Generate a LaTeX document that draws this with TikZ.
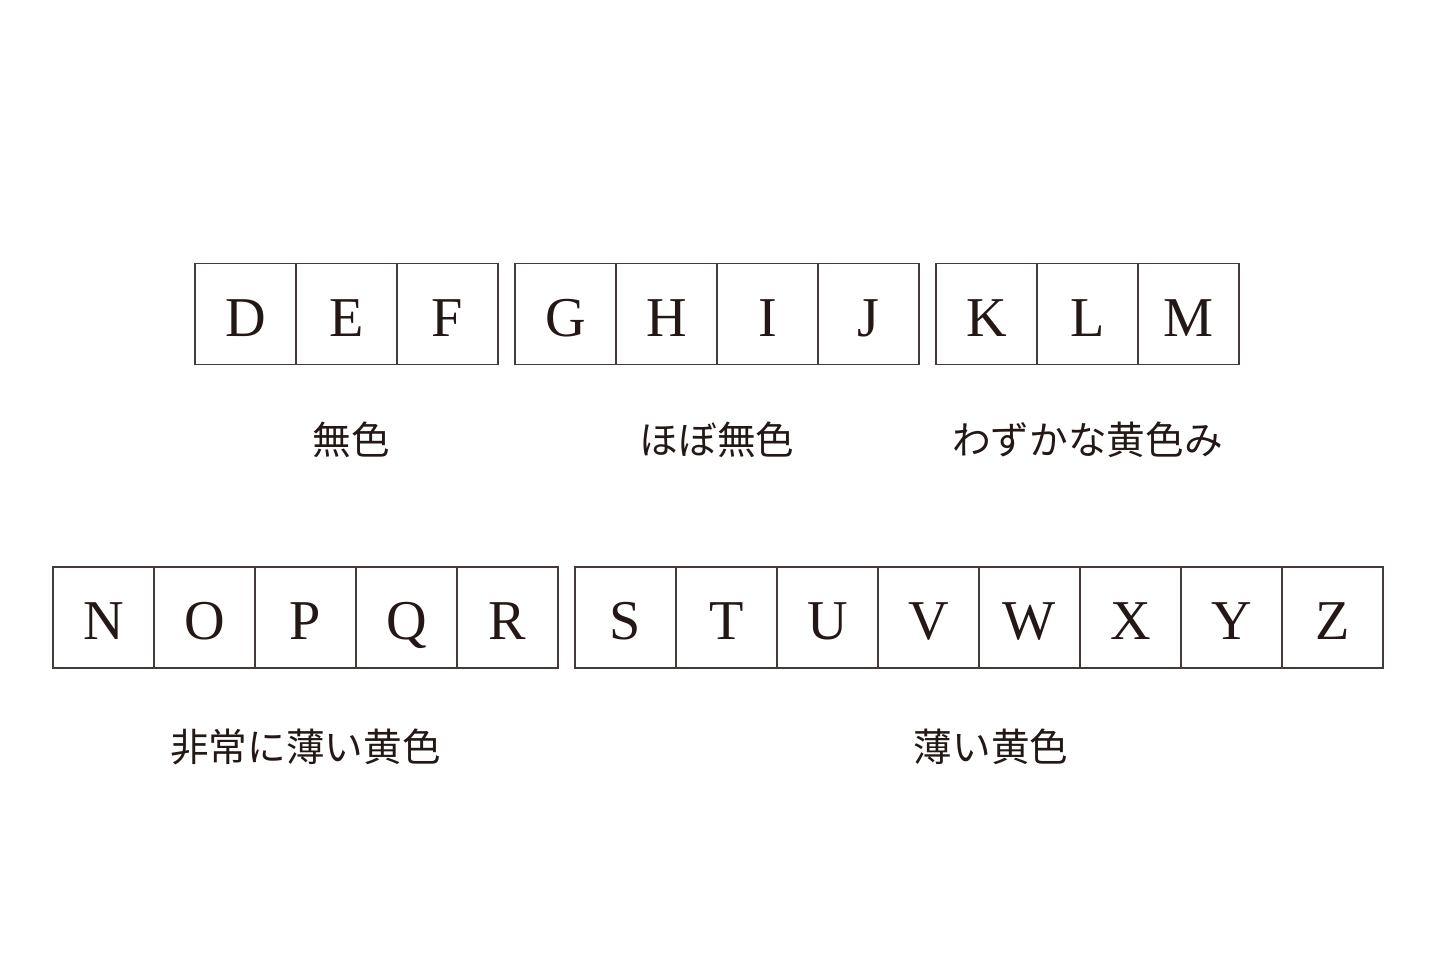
\documentclass[tikz,border=0pt]{standalone}
\usepackage{fontspec}
\setmainfont{Liberation Serif}
\newfontfamily\jpfont{Noto Sans CJK JP}
\usetikzlibrary{positioning}
\definecolor{ink}{HTML}{231815}

\begin{document}
\begin{tikzpicture}[
        grade/.style = {
            draw=ink!85,
            line width=0.5pt,
            minimum width=1.01cm,
            minimum height=1.01cm,
            text height=12.6pt,
            text depth=0pt,
            inner sep=0pt,
            outer sep=0pt,
            text=ink,
            font=\fontsize{16}{16}\selectfont
        },
        tag/.style = {
            text=ink,
            inner sep=0pt,
            font=\jpfont\fontsize{11}{11}\selectfont
        },
        node distance=0pt]

        \useasboundingbox (0,0) rectangle (14.4,9.6);

        % first row
        \node[grade] (D) at (2.455,6.46) {D};
        \node[grade, right=of D] (E) {E};
        \node[grade, right=of E] (F) {F};

        \node[grade] (G) at (5.655,6.46) {G};
        \node[grade, right=of G] (H) {H};
        \node[grade, right=of H] (I) {I};
        \node[grade, right=of I] (J) {J};

        \node[grade] (K) at (9.865,6.46) {K};
        \node[grade, right=of K] (L) {L};
        \node[grade, right=of L] (M) {M};

        % second row
        \node[grade] (N) at (1.035,3.425) {N};
        \node[grade, right=of N] (O) {O};
        \node[grade, right=of O] (P) {P};
        \node[grade, right=of P] (Q) {Q};
        \node[grade, right=of Q] (R) {R};

        \node[grade] (S) at (6.255,3.425) {S};
        \node[grade, right=of S] (T) {T};
        \node[grade, right=of T] (U) {U};
        \node[grade, right=of U] (V) {V};
        \node[grade, right=of V] (W) {W};
        \node[grade, right=of W] (X) {X};
        \node[grade, right=of X] (Y) {Y};
        \node[grade, right=of Y] (Z) {Z};

        % labels
        \node[tag, below=0.57cm of E, xshift=0.05cm] (colorless) {無色};
        \node[tag, below=0.57cm of H.south east] (nearly) {ほぼ無色};
        \node[tag, below=0.57cm of L] (faint) {わずかな黄色み};
        \node[tag, below=0.6cm of P] (veryfaint) {非常に薄い黄色};
        \node[tag, below=0.6cm of V.south east, xshift=0.12cm] (light) {薄い黄色};
    \end{tikzpicture}
\end{document}
